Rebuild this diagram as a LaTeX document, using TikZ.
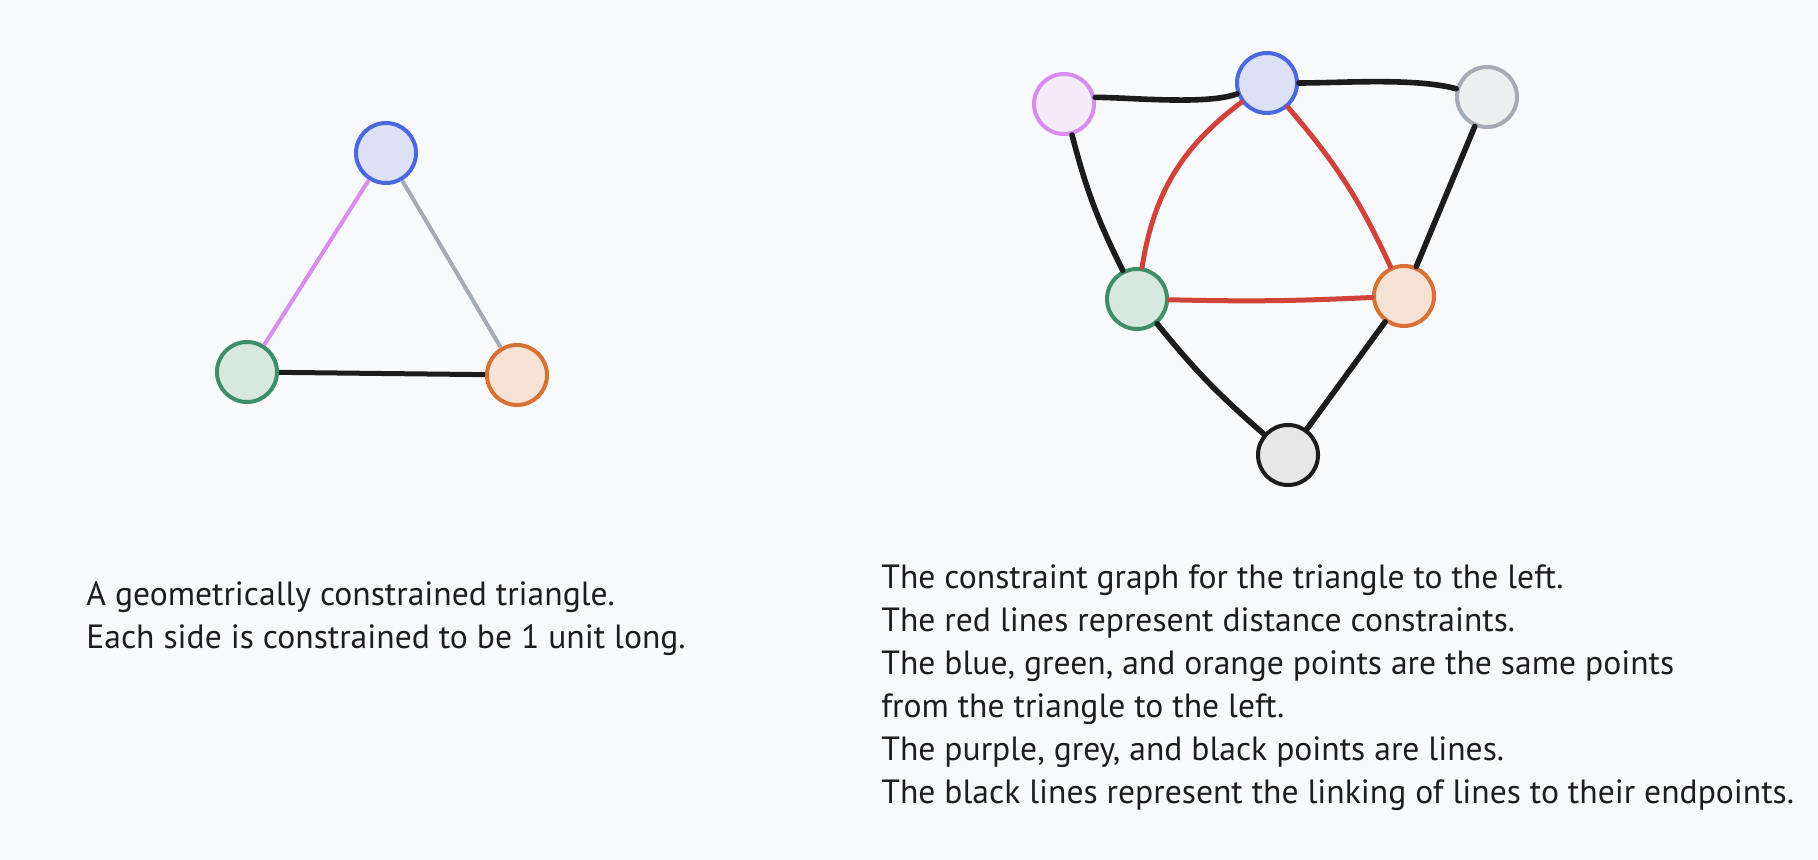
\documentclass[tikz,border=0pt]{standalone}
\usepackage{fontspec}
\setmainfont{PT Sans}
\definecolor{bgc}{HTML}{F8F9FB}
\definecolor{txt}{HTML}{1D1D1F}
\definecolor{blueln}{HTML}{4A68E0}\definecolor{bluefl}{HTML}{DCE1F5}
\definecolor{greenln}{HTML}{3E8E6A}\definecolor{greenfl}{HTML}{D6E8E0}
\definecolor{orangeln}{HTML}{D87234}\definecolor{orangefl}{HTML}{F6E3D6}
\definecolor{purpleln}{HTML}{D88CEE}\definecolor{purplefl}{HTML}{F5EAF9}
\definecolor{greyln}{HTML}{A4ABB4}\definecolor{greyfl}{HTML}{EDEEF0}
\definecolor{blackln}{HTML}{1C1C1C}\definecolor{blackfl}{HTML}{E7E7E7}
\definecolor{redln}{HTML}{D0433B}
\tikzset{
  vtx/.style={circle,minimum size=30pt,inner sep=0pt,line width=2pt},
  link/.style={blackln,line width=2.8pt,line cap=round},
  dist/.style={redln,line width=2.5pt,line cap=round},
  caption/.style={anchor=base west,inner sep=0pt,align=left,text=txt,
    font=\fontsize{16.8}{21.5}\selectfont}
}

\begin{document}
\begin{tikzpicture}[x=0.5pt,y=-0.5pt]
     \useasboundingbox[fill=bgc] (0,0) rectangle (1818,860);
     \node[vtx,draw=blueln,fill=bluefl]     (b)  at (386,153) {};
     \node[vtx,draw=greenln,fill=greenfl]   (g)  at (247,372) {};
     \node[vtx,draw=orangeln,fill=orangefl] (o)  at (517,375) {};
     \draw[purpleln,line width=2pt] (g) -- (b);
     \draw[greyln,line width=2pt] (b) -- (o);
     \draw[blackln,line width=2.5pt] (g) -- (o);

     \node[vtx,draw=purpleln,fill=purplefl] (lp) at (1064,104) {};
     \node[vtx,draw=blueln,fill=bluefl]     (pb) at (1267,83) {};
     \node[vtx,draw=greyln,fill=greyfl]     (lg) at (1487,97) {};
     \node[vtx,draw=greenln,fill=greenfl]   (pg) at (1137,299) {};
     \node[vtx,draw=orangeln,fill=orangefl] (po) at (1404,296) {};
     \node[vtx,draw=blackln,fill=blackfl]   (lk) at (1288,455) {};
     \draw[link] (lp.12) to[out=0,in=200,looseness=0.6] (pb);
     \draw[link] (pb) to[out=0,in=165,looseness=0.7] (lg);
     \draw[link] (lp) to[bend right=6] (pg);
     \draw[link] (lg) -- (po);
     \draw[link] (pg) to[bend right=5] (lk);
     \draw[link] (po) -- (lk);
     \draw[dist] (pg) to[bend left=22] (pb);
     \draw[dist] (pb) to[bend left=8] (po);
     \draw[dist] (pg) to[bend right=2] (po);

     \node[caption] (capl) at (86,648) {A geometrically constrained triangle.\\
       Each side is constrained to be 1 unit long.};
     \node[caption] (capr) at (881,803) {The constraint graph for the triangle to the left.\\
       The red lines represent distance constraints.\\
       The blue, green, and orange points are the same points\\
       from the triangle to the left.\\
       The purple, grey, and black points are lines.\\
       The black lines represent the linking of lines to their endpoints.};
    \end{tikzpicture}
\end{document}
